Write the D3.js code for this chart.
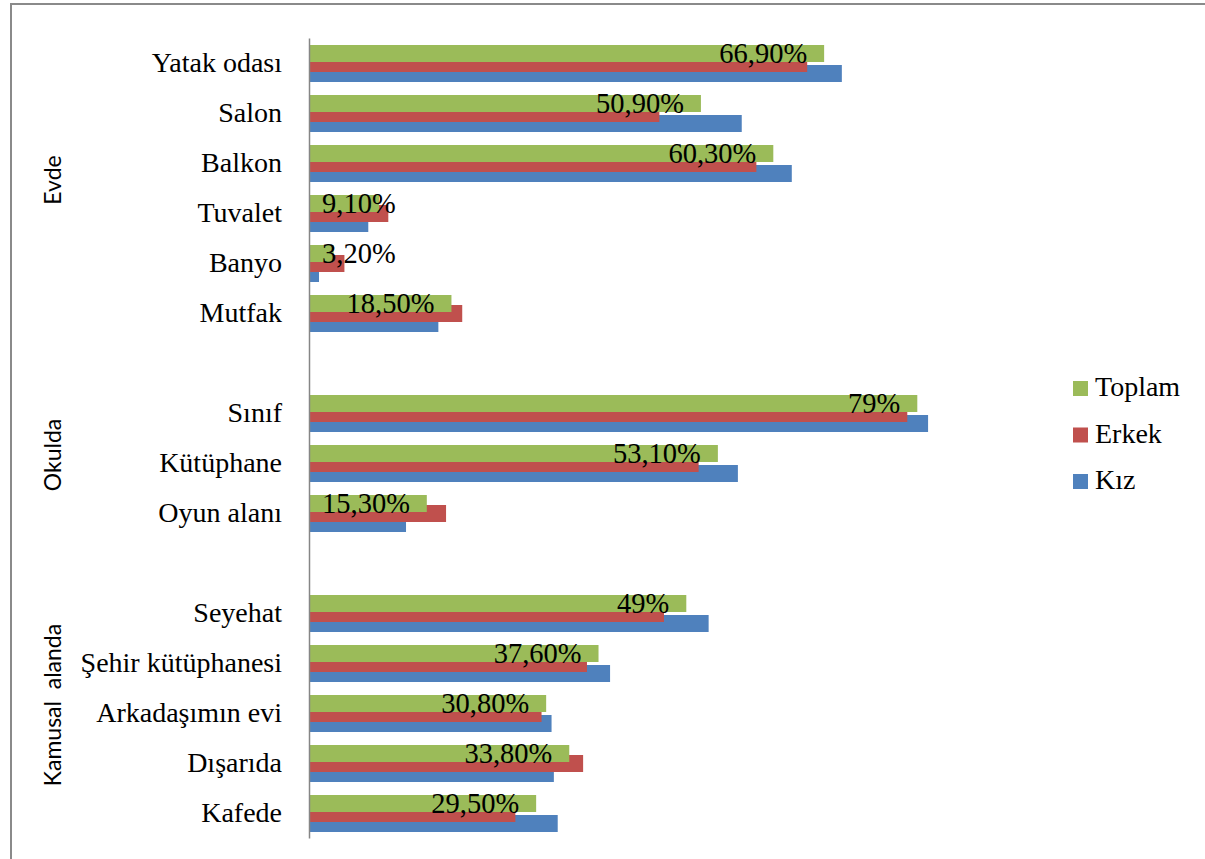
<!DOCTYPE html>
<html>
<head>
<meta charset="utf-8">
<script src="https://cdn.jsdelivr.net/npm/d3@7"></script>
<style>
  body { margin: 0; background: #fff; }
  text { font-family: "Liberation Serif", serif; }
</style>
</head>
<body>
<svg id="chart" width="1205" height="859"></svg>
<script>
// categories top to bottom, blanks separate the groups
var categories = ["Yatak odası", "Salon", "Balkon", "Tuvalet", "Banyo", "Mutfak", "",
    "Sınıf", "Kütüphane", "Oyun alanı", " ",
    "Seyehat", "Şehir kütüphanesi", "Arkadaşımın evi", "Dışarıda", "Kafede"];

var toplam = [66.9, 50.9, 60.3, 9.1, 3.2, 18.5, null, 79, 53.1, 15.3, null, 49, 37.6, 30.8, 33.8, 29.5];
var erkek  = [64.7, 45.5, 58.1, 10.3, 4.6, 19.9, null, 77.7, 50.6, 17.8, null, 46.1, 36.1, 30.2, 35.6, 26.8];
var kiz    = [69.2, 56.2, 62.7, 7.7, 1.3, 16.8, null, 80.4, 55.7, 12.6, null, 51.9, 39.1, 31.5, 31.8, 32.3];

var groupNames = ["Evde", "Okulda", "Kamusal  alanda"];
var groupFirst = ["Yatak odası", "Sınıf", "Seyehat"];
var groupLast  = ["Mutfak", "Oyun alanı", "Kafede"];

var seriesNames = ["Toplam", "Erkek", "Kız"];
var colors = {Toplam: "#9BBB59", Erkek: "#C0504D", "Kız": "#4F81BD"};

var svg = d3.select("#chart");

// outer frame
svg.append("rect")
    .attr("x", 11).attr("y", 4)
    .attr("width", 1300).attr("height", 1000)
    .attr("fill", "#fff")
    .attr("stroke", "#8a8a8a")
    .attr("stroke-width", 2);

var x = d3.scaleLinear().domain([0, 100]).range([309, 1079]);
var y = d3.scaleBand().domain(categories).range([38, 838]);
var bw = y.bandwidth();
var barH = bw * 0.34, step = bw * 0.2, start = bw * 0.14;

var series = [
    {name: "Kız", values: kiz, slot: 2},
    {name: "Erkek", values: erkek, slot: 1},
    {name: "Toplam", values: toplam, slot: 0}
];

series.forEach(function(s) {
    svg.append("g").selectAll("rect")
        .data(s.values.map(function(v, i) { return {v: v, c: categories[i]}; })
            .filter(function(d) { return d.v != null; }))
        .enter().append("rect")
        .attr("x", x(0))
        .attr("y", function(d) { return y(d.c) + start + s.slot * step; })
        .attr("width", function(d) { return x(d.v) - x(0); })
        .attr("height", barH)
        .attr("fill", colors[s.name]);
});

// category axis
var axis = svg.append("g")
    .attr("transform", "translate(" + x(0) + ",0)")
    .call(d3.axisLeft(y).tickSize(0).tickSizeOuter(0).tickPadding(27));
axis.select(".domain").attr("stroke", "#868686").attr("stroke-width", 1.5);
axis.selectAll(".tick text")
    .attr("font-family", "Liberation Serif")
    .attr("font-size", 28)
    .attr("fill", "#000")
    .attr("dy", "0.33em");

// data labels for Toplam
function fmt(v) {
    return Number.isInteger(v) ? v + "%" : v.toFixed(2).replace(".", ",") + "%";
}
svg.append("g").selectAll("text")
    .data(toplam.map(function(v, i) { return {v: v, c: categories[i]}; })
        .filter(function(d) { return d.v != null; }))
    .enter().append("text")
    .attr("font-size", 28.5)
    .attr("fill", "#000")
    .attr("y", function(d) { return y(d.c) + start + barH + 1; })
    .text(function(d) { return fmt(d.v); })
    .each(function(d) {
        var t = d3.select(this);
        var w = this.getComputedTextLength();
        var endX = x(d.v) - 17;
        if (endX - w < x(0) + 13) {
            t.attr("x", x(0) + 13).attr("text-anchor", "start");
        } else {
            t.attr("x", endX).attr("text-anchor", "end");
        }
    });

// group labels
groupNames.forEach(function(g, i) {
    var cy = (y(groupFirst[i]) + y(groupLast[i]) + bw) / 2 - 8;
    svg.append("text")
        .attr("transform", "translate(61," + cy + ") rotate(-90)")
        .attr("text-anchor", "middle")
        .style("font-family", "Lato, 'Open Sans', sans-serif")
        .style("white-space", "pre")
        .attr("font-size", 23)
        .attr("fill", "#000")
        .text(g);
});

// legend
var legend = svg.append("g").selectAll("g")
    .data(seriesNames)
    .enter().append("g")
    .attr("transform", function(d, i) { return "translate(1073," + (381 + i * 46.5) + ")"; });
legend.append("rect")
    .attr("width", 15).attr("height", 15)
    .attr("fill", function(d) { return colors[d]; });
legend.append("text")
    .attr("x", 22).attr("y", 15)
    .attr("font-size", 28)
    .attr("fill", "#000")
    .text(function(d) { return d; });
</script>
</body>
</html>
